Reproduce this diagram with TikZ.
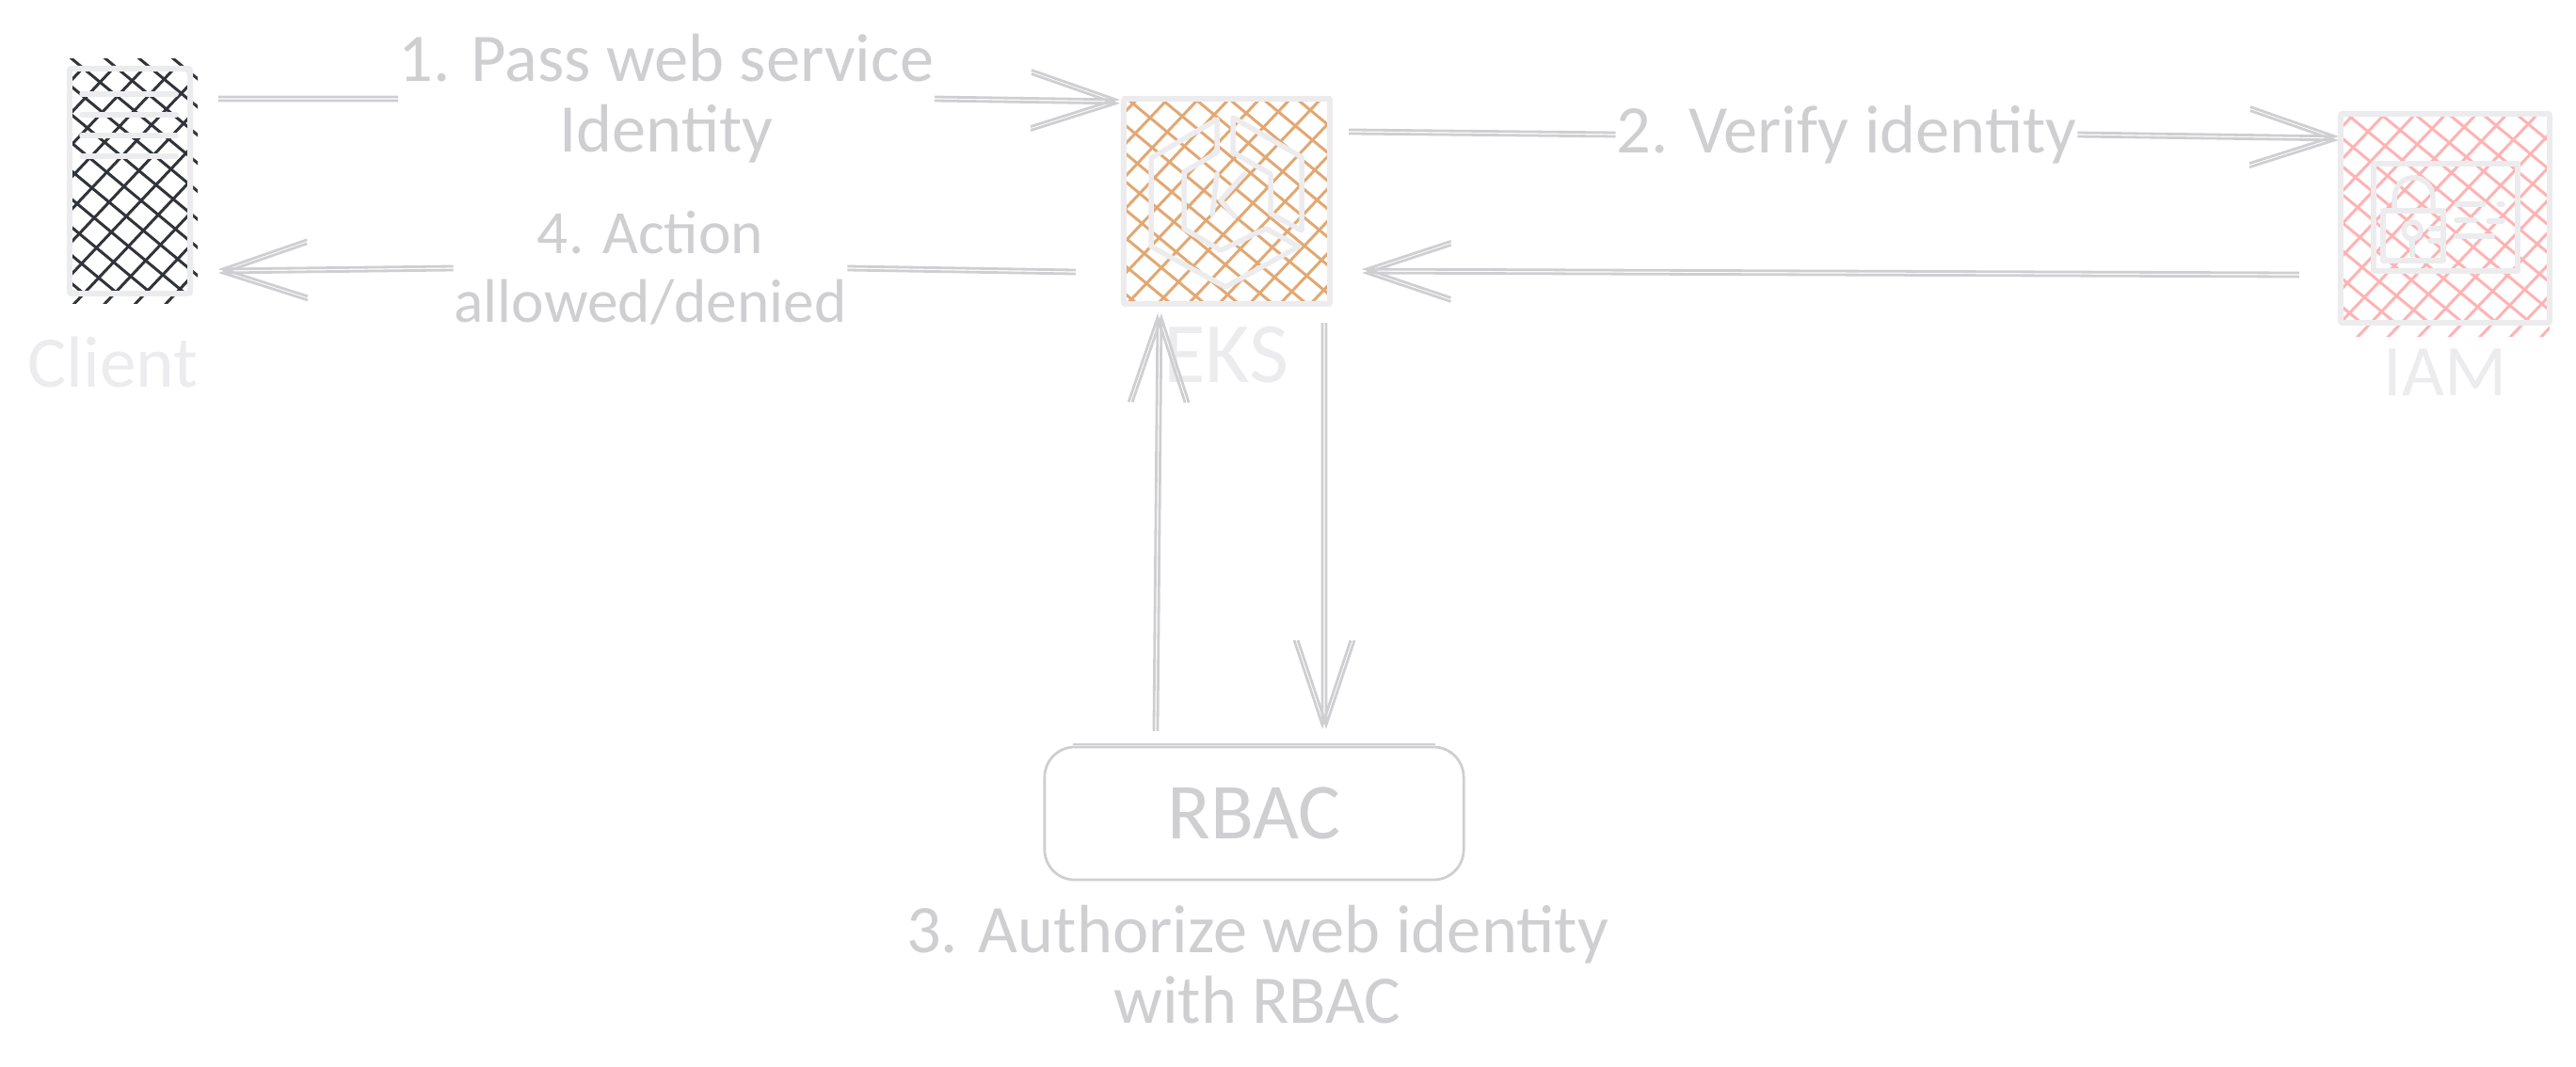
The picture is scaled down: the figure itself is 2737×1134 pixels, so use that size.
\documentclass[tikz,border=0pt]{standalone}
\usepackage{fontspec}
\setmainfont{Carlito}
\usetikzlibrary{positioning}
\usetikzlibrary{arrows.meta,backgrounds}
\definecolor{skLine} {HTML}{CFCED1}
\definecolor{skPale} {HTML}{ECECEF}
\definecolor{skInk}  {HTML}{30343A}
\definecolor{skOrange}{HTML}{E2A873}
\definecolor{skRose} {HTML}{FFB3B3}

\begin{document}
\begin{tikzpicture}
[x=0.01cm, y=-0.01cm, >={Straight Barb[length=0.9cm,width=0.6cm]},
  wire/.style = { draw=skLine, line width=0.028cm },
  iconbox/.style = { draw=skPale, line width=0.06cm, rounded corners=0.02cm, inner sep=0pt, outer sep=0pt },
  iconline/.style = { draw=skPale, line width=0.055cm, line cap=round, line join=round },
  hatch/.style = { line width=0.03cm },
  msg/.style = { text=skLine, align=center, inner sep=0pt, font=\fontsize{20.6}{21.4}\selectfont },
  capt/.style = { text=skPale, inner sep=0pt, font=\fontsize{22}{24}\selectfont }
]
\useasboundingbox (0,0) rectangle (2737,1134);

% Icon boxes:
\node[iconbox, minimum width=1.28cm, minimum height=2.39cm] (client) at (138,192.5) {};
\node[iconbox, minimum width=2.19cm, minimum height=2.18cm] (eks)    at (1303.5,214) {};
\node[iconbox, minimum width=2.22cm, minimum height=2.22cm] (iam)    at (2598,232) {};
\node[wire, rounded corners=0.32cm, outer sep=0pt, minimum width=4.45cm, minimum height=1.41cm,
      text=skLine, font=\fontsize{24}{26}\selectfont] (rbac) at (1332.5,864.5) {RBAC};

% Captions:
\node[capt] (clientcapt) at (120,385) {Client};
\node[capt, font=\fontsize{26}{28}\selectfont] (ekscapt) at (1303,377) {EKS};
\node[capt] (iamcapt)    at (2598,396) {IAM};

% Message labels:
\node[msg] (passlabel)   at (708,105)  {1. Pass web service\\Identity};
\node[msg] (verifylabel) at (1962,143) {2. Verify identity};
\node[msg, font=\fontsize{18.6}{20.8}\selectfont] (actionlabel) at (691,285)  {4. Action\\allowed/denied};
\node[msg] (authlabel)   at (1336,1025) {3. Authorize web identity\\with RBAC};

% Hatching, under the box outlines:
\begin{pgfonlayer}{background}
\foreach \name/\col/\etop/\eright/\ebot/\pa/\pb in {client/skInk/0.1/0.08/0.1/-13/-1, eks/skOrange/0.02/0.02/0/-10.5/-3, iam/skRose/0.02/0.02/0.14/-7/-6.5}
{
  \begin{scope}
    \clip (\name.south west) rectangle ([xshift=\eright cm,yshift=\etop cm]\name.north east);
    \foreach \i in {-12,...,12}
      \draw[hatch, \col, shift={(\name.center)}] ({\i*36-241+\pa},-200) -- ({\i*36+241+\pa},200);
  \end{scope}
  \begin{scope}
    \clip ([yshift=-\ebot cm]\name.south west) rectangle (\name.north east);
    \foreach \i in {-12,...,12}
      \draw[hatch, \col, shift={(\name.center)}] ({\i*32.5+189+\pb},-200) -- ({\i*32.5-189+\pb},200);
  \end{scope}
}
\end{pgfonlayer}

% Client icon bars:
\foreach \y in {100,122,144,166}
  \draw[iconline] (87,\y) -- (187,\y);

% EKS icon:
\draw[iconline] (1293,127) -- (1293,162) -- (1258,183) -- (1258,243) -- (1297,266) -- (1345,243)
  -- (1380,262) -- (1302,305) -- (1223,262) -- (1223,168) -- cycle;
\draw[iconline] (1310,125) -- (1383,167) -- (1383,245) -- (1350,227) -- (1350,185) -- (1310,162) -- cycle;
\draw[iconline] (1293,185) -- (1288,228);
\draw[iconline] (1322,185) -- (1297,213) -- (1312,230);

% IAM icon:
\draw[iconline] (2522,174) rectangle (2675,288);
\draw[iconline] (2532,224) rectangle (2596,277);
\draw[iconline] (2544,224) -- (2544,212) .. controls (2544,181) and (2585,181) .. (2585,212) -- (2585,224);
\draw[iconline] (2563,245) circle (0.09cm);
\draw[iconline] (2563,254) -- (2563,271);
\draw[iconline] (2582,243) -- (2593,243);
\draw[iconline] (2582,256) -- (2593,256);
\draw[iconline] (2610,217) -- (2639,217);
\draw[iconline] (2655,217) -- (2659,217);
\draw[iconline] (2610,234) -- (2630,234);
\draw[iconline] (2644,235) -- (2659,235);
\draw[iconline] (2610,251) -- (2648,251);

% RBAC box, second stroke along the top:
\draw[wire] ([xshift=0.3cm,yshift=0.03cm]rbac.north west) -- ([xshift=-0.3cm,yshift=0.03cm]rbac.north east);

% Connectors, each stroked twice:
\foreach \o in {-0.02,0.02}
{
  % 1. Client to EKS:
  \draw[wire] ([xshift=0.3cm,yshift=-0.32cm+\o cm]client.north east) -- ([yshift=\o cm]passlabel.west);
  \draw[wire,->] ([yshift=\o cm]passlabel.east) -- ([xshift=-0.04cm,yshift=-0.03cm+\o cm]eks.north west);

  % 2. EKS to IAM:
  \draw[wire] ([xshift=0.2cm,yshift=-0.35cm+\o cm]eks.north east) -- ([yshift=\o cm]verifylabel.west);
  \draw[wire,->] ([yshift=\o cm]verifylabel.east) -- ([xshift=-0.02cm,yshift=-0.26cm+\o cm]iam.north west);

  % IAM back to EKS:
  \draw[wire,->] ([xshift=-0.44cm,yshift=0.51cm+\o cm]iam.south west) -- ([xshift=0.34cm,yshift=0.35cm+\o cm]eks.south east);

  % 4. EKS to Client:
  \draw[wire] ([xshift=-0.51cm,yshift=0.34cm+\o cm]eks.south west) -- ([yshift=\o cm]actionlabel.east);
  \draw[wire,->] ([yshift=\o cm]actionlabel.west) -- ([xshift=0.3cm,yshift=0.24cm+\o cm]client.south east);

  % 3. EKS and RBAC:
  \draw[wire,->] ([xshift=-0.06cm+\o cm,yshift=-0.2cm]eks.south east) -- ([xshift=-1.48cm+\o cm,yshift=0.19cm]rbac.north east);
  \draw[wire,->] ([xshift=1.18cm+\o cm,yshift=0.17cm]rbac.north west) -- ([xshift=0.38cm+\o cm,yshift=-0.1cm]eks.south west);
}
\end{tikzpicture}
\end{document}
